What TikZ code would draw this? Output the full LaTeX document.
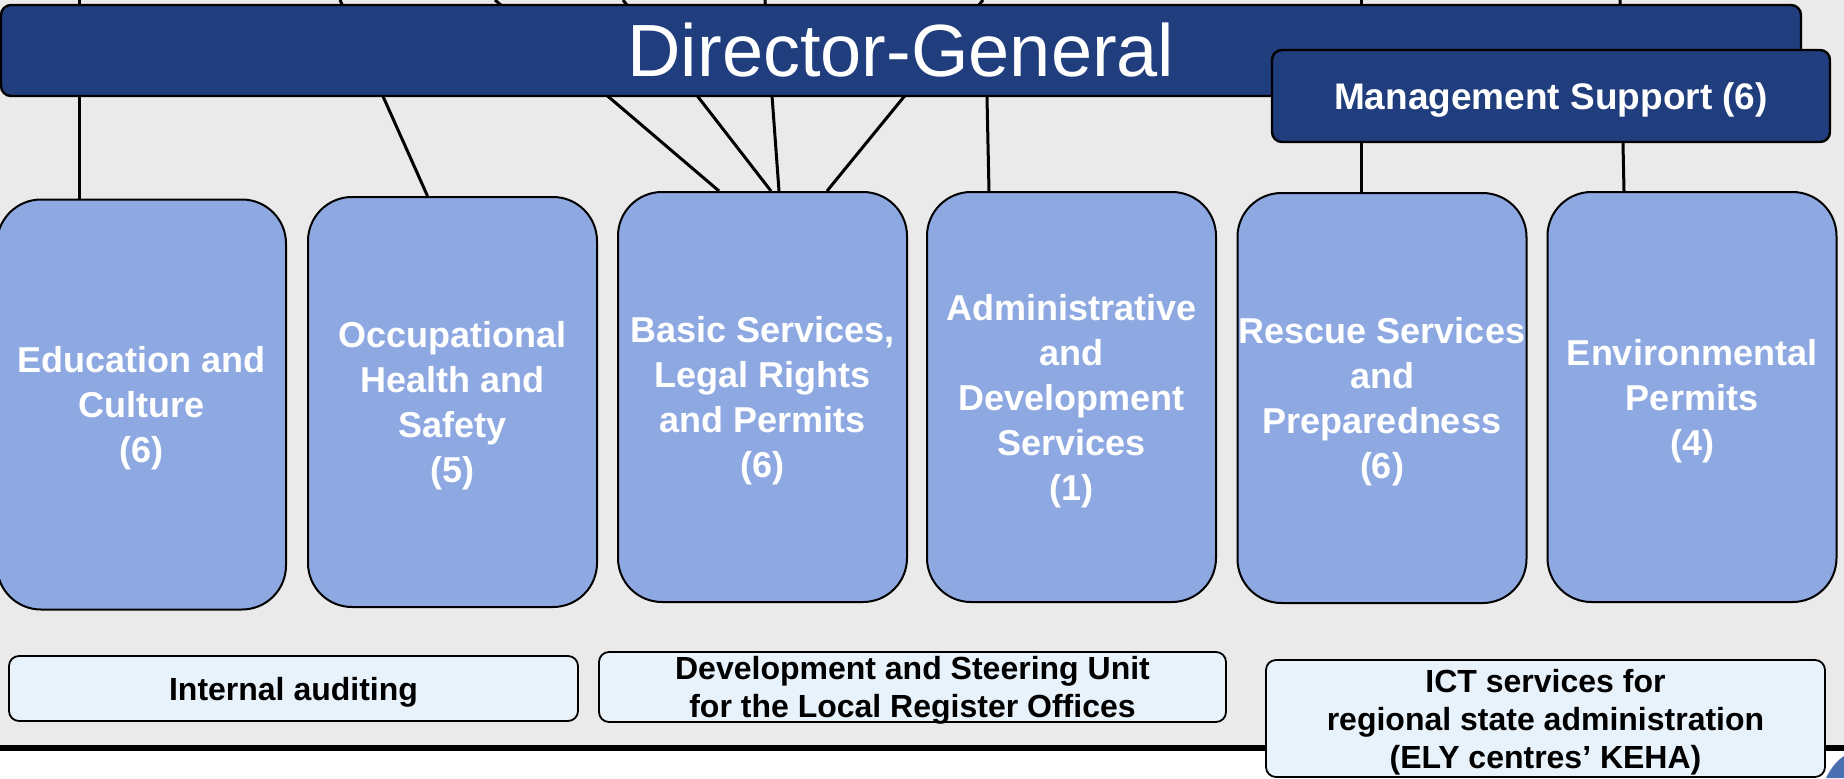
\documentclass[tikz,border=0pt]{standalone}
\usepackage{fontspec}
\setmainfont{Liberation Sans}
\usepackage{tikz}
\usetikzlibrary{calc}
\definecolor{dgblue}{RGB}{32,61,125}
\definecolor{unitblue}{RGB}{142,169,225}
\definecolor{paleblue}{RGB}{232,242,250}
\definecolor{slidegrey}{RGB}{234,234,234}
\definecolor{swooshblue}{RGB}{74,112,178}
\tikzset{
	unitbox/.style={draw, line width=1pt, fill=unitblue, rounded corners=22pt, minimum width=144.5pt, minimum height=205pt, inner sep=0pt, align=center, text=white, text depth=-2.2pt, font=\bfseries\fontsize{18}{22.5}\selectfont},
	sidebox/.style={draw, line width=0.9pt, fill=paleblue, rounded corners=5pt, inner sep=0pt, align=center, text depth=-2.6pt, font=\bfseries\fontsize{16}{19}\selectfont},
	headbox/.style={draw, line width=1.2pt, fill=dgblue, rounded corners=5pt, inner sep=0pt, text=white},
	link/.style={line width=1.5pt}
}

\begin{document}
\begin{tikzpicture}[x=0.5pt,y=-0.5pt]
		\useasboundingbox (0,0) rectangle (1844,778);
		\fill[slidegrey] (0,0) rectangle (1844,745);
		\fill[black] (0,745) rectangle (1844,751);
		\fill[swooshblue] (1826,778) .. controls (1832,766) and (1838,760) .. (1844,756) -- (1844,778) -- cycle;
		% units
		\node[unitbox] (edu) at (141.5,404.5) {Education and\\Culture\\(6)};
		\node[unitbox] (ohs) at (452.5,402) {Occupational\\Health and\\Safety\\(5)};
		\node[unitbox] (bas) at (762.5,397) {Basic Services,\\Legal Rights\\and Permits\\(6)};
		\node[unitbox] (adm) at (1071.5,397) {Administrative\\and\\Development\\Services\\(1)};
		\node[unitbox] (res) at (1382,398) {Rescue Services\\and\\Preparedness\\(6)};
		\node[unitbox] (env) at (1692,397) {Environmental\\Permits\\(4)};
		% bottom row
		\node[sidebox, minimum width=284.5pt, minimum height=32.5pt] (aud) at (293.5,688.5) {Internal auditing};
		\node[sidebox, minimum width=313.5pt, minimum height=35pt] (dev) at (912.5,687) {Development and Steering Unit\\for the Local Register Offices};
		\node[sidebox, minimum width=279.5pt, minimum height=58.5pt] (ict) at (1545.5,718.5) {ICT services for\\regional state administration\\(ELY centres’ KEHA)};
		% lines coming in from above
		\coordinate (upEdu) at (79,0);
		\coordinate (upOhs) at (340,0);
		\foreach \k/\x in {A/495, B/623, C/765, D/983}
			\coordinate (upBas\k) at (\x,0);
		\coordinate (upRes) at (1361,0);
		\coordinate (upEnv) at (1620,0);
		\draw[link] (upEdu) -- (upEdu |- edu.north);
		\draw[link] (upOhs) -- ($(ohs.north)+(-25,0)$);
		\foreach \k/\d in {A/-43.5, B/8.5, C/16.5, D/64.5}
			\draw[link] (upBas\k) -- ($(bas.north)+(\d,0)$);
		\draw[link] (upRes) -- (upRes |- res.north);
		\draw[link] (upEnv) -- ($(env.north)+(-68,0)$);
		% head
		\node[headbox, minimum width=900pt, minimum height=45.5pt, font=\fontsize{37}{44}\selectfont] (dg) at (901,50.5) {Director-General};
		\node[headbox, minimum width=279pt, minimum height=46pt, text depth=-2.1pt, font=\bfseries\fontsize{18.5}{22}\selectfont] (ms) at (1551,96) {Management Support (6)};
		\draw[link] ($(dg.south)+(86,0)$) -- ($(adm.north)+(-82.5,0)$);
\end{tikzpicture}
\end{document}
